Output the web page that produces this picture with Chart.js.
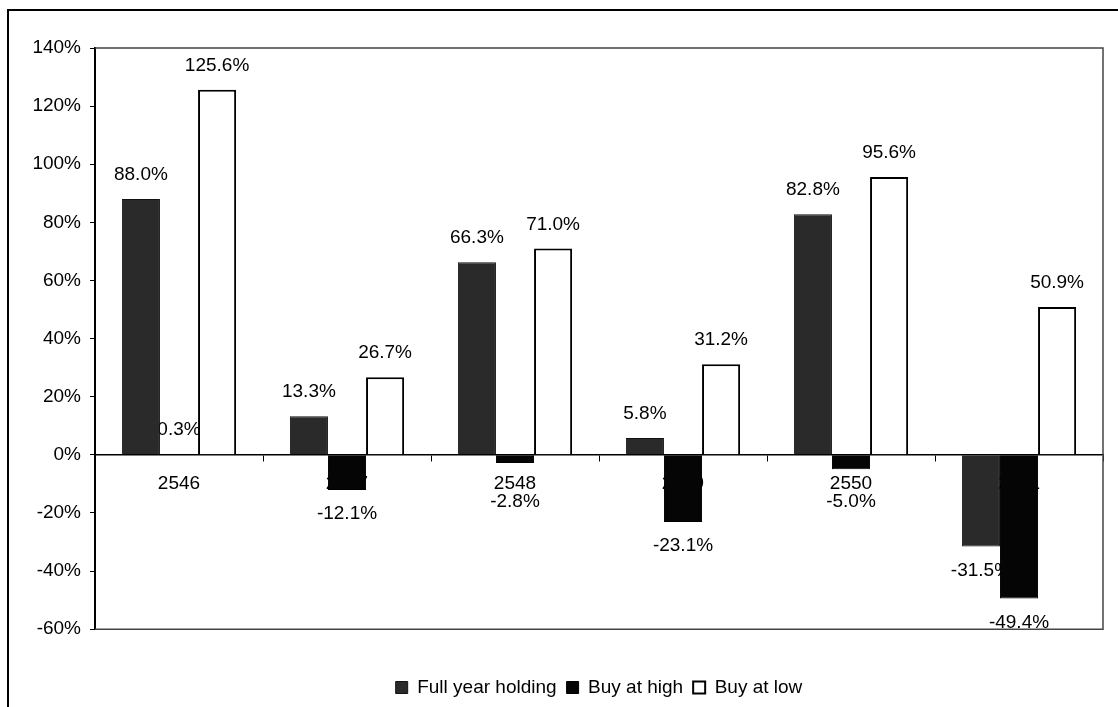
<!DOCTYPE html>
<html>
<head>
<meta charset="utf-8">
<script src="https://cdn.jsdelivr.net/npm/chart.js@4/dist/chart.umd.min.js"></script>
<style>
  html, body { margin: 0; padding: 0; background: #fff; }
  #wrap { width: 1118px; height: 707px; position: relative; }
</style>
</head>
<body>
<div id="wrap"><canvas id="c" width="1118" height="707"></canvas></div>
<script>
// Annual returns by strategy, Thai Buddhist-era years
const years = ['2546', '2547', '2548', '2549', '2550', '2551'];
const fullYearHolding = [88.0, 13.3, 66.3, 5.8, 82.8, -31.5];
const buyAtHigh = [0.3, -12.1, -2.8, -23.1, -5.0, -49.4];
const buyAtLow = [125.6, 26.7, 71.0, 31.2, 95.6, 50.9];
const seriesNames = ['Full year holding', 'Buy at high', 'Buy at low'];
const yMin = -60, yMax = 140, yStep = 20;

const FONT = "'Liberation Sans', Arial, Helvetica, sans-serif";
const FONT_SIZE = 19;
Chart.defaults.font.family = FONT;
Chart.defaults.font.size = FONT_SIZE;
Chart.defaults.color = '#000';

// White page with the outer frame lines
const framePlugin = {
  id: 'frame',
  beforeDraw(chart) {
    const ctx = chart.ctx;
    ctx.save();
    ctx.fillStyle = '#fff';
    ctx.fillRect(0, 0, chart.width, chart.height);
    ctx.strokeStyle = '#000';
    ctx.lineWidth = 2;
    ctx.beginPath();
    ctx.moveTo(8, chart.height + 2);
    ctx.lineTo(8, 10);
    ctx.lineTo(chart.width + 2, 10);
    ctx.stroke();
    ctx.restore();
  }
};

// Box round the plot area (top, right, bottom edges)
const plotBoxPlugin = {
  id: 'plotBox',
  beforeDatasetsDraw(chart) {
    const {ctx, chartArea: a} = chart;
    ctx.save();
    ctx.strokeStyle = '#444';
    ctx.lineWidth = 1.5;
    ctx.beginPath();
    ctx.moveTo(a.left, a.top);
    ctx.lineTo(a.right, a.top);
    ctx.lineTo(a.right, a.bottom);
    ctx.lineTo(a.left, a.bottom);
    ctx.stroke();
    ctx.restore();
  }
};

// Value labels, painted beneath the bars
const valueLabelPlugin = {
  id: 'valueLabels',
  beforeDatasetsDraw(chart) {
    const ctx = chart.ctx;
    const zeroY = chart.scales.y.getPixelForValue(0);
    ctx.save();
    ctx.font = FONT_SIZE + 'px ' + FONT;
    ctx.fillStyle = '#000';
    ctx.textAlign = 'center';
    ctx.textBaseline = 'middle';
    chart.data.datasets.forEach((ds, di) => {
      const meta = chart.getDatasetMeta(di);
      meta.data.forEach((bar, i) => {
        const v = ds.data[i];
        let y;
        if (v >= 0) {
          y = bar.y - 24;
        } else {
          y = Math.max(bar.y + 24, zeroY + 47);
        }
        ctx.fillText(v.toFixed(1) + '%', bar.x, y);
      });
    });
    ctx.restore();
  }
};

new Chart(document.getElementById('c'), {
  type: 'bar',
  data: {
    labels: years,
    datasets: [
      {
        label: seriesNames[0],
        data: fullYearHolding,
        backgroundColor: '#2a2a2a',
        borderColor: '#111',
        borderWidth: 1
      },
      {
        label: seriesNames[1],
        data: buyAtHigh,
        backgroundColor: '#050505',
        borderColor: '#000',
        borderWidth: 1
      },
      {
        label: seriesNames[2],
        data: buyAtLow,
        backgroundColor: '#ffffff',
        borderColor: '#000',
        borderWidth: 2
      }
    ]
  },
  options: {
    responsive: false,
    animation: false,
    devicePixelRatio: 1,
    layout: { padding: { left: 0, top: 48, right: 15, bottom: 0 } },
    datasets: {
      bar: { categoryPercentage: 0.68, barPercentage: 1.0 }
    },
    scales: {
      x: {
        position: { y: 0 },
        afterFit(scale) { scale.height = 0; },
        grid: {
          drawOnChartArea: false,
          drawTicks: true,
          tickLength: 6,
          color: '#000',
          offset: true
        },
        border: { display: true, color: '#000', width: 1.5 },
        ticks: { padding: 12, color: '#000', maxRotation: 0, autoSkip: false }
      },
      y: {
        min: yMin,
        max: yMax,
        afterFit(scale) { scale.width = 95; },
        grid: {
          drawOnChartArea: false,
          drawTicks: true,
          tickLength: 5,
          color: '#000'
        },
        border: { display: true, color: '#000', width: 2 },
        ticks: {
          stepSize: yStep,
          padding: 9,
          color: '#000',
          callback: (v) => v + '%'
        }
      }
    },
    plugins: {
      legend: {
        position: 'bottom',
        fullSize: false,
        title: { display: true, text: '', padding: { top: 16, bottom: 0 }, font: { size: FONT_SIZE } },
        labels: {
          boxWidth: 12,
          boxHeight: 12,
          padding: 10,
          color: '#000'
        }
      },
      tooltip: { enabled: false }
    }
  },
  plugins: [framePlugin, plotBoxPlugin, valueLabelPlugin]
});
</script>
</body>
</html>
